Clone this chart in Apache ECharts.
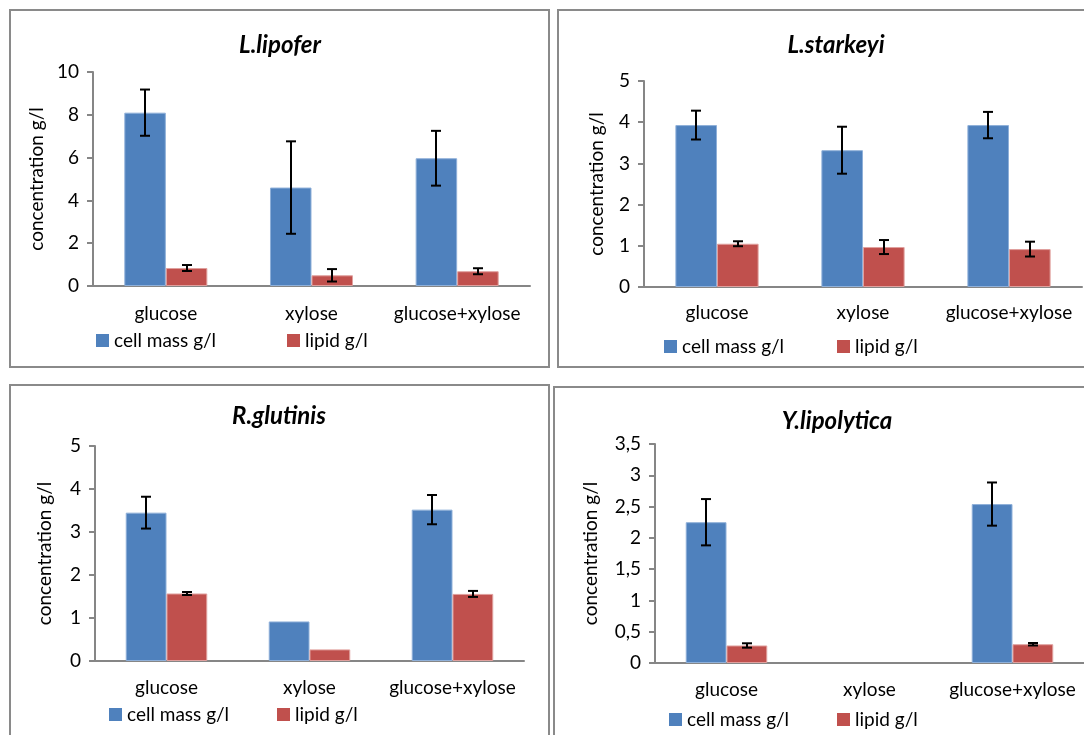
<!DOCTYPE html>
<html>
<head>
<meta charset="utf-8">
<script src="https://cdn.jsdelivr.net/npm/echarts@6/dist/echarts.min.js"></script>
<style>
  html, body { margin: 0; padding: 0; width: 1084px; height: 735px; overflow: hidden; background: #fff; }
  .panel { position: absolute; box-sizing: border-box; border: 2px solid #8a8a8a; background: #fff; }
</style>
</head>
<body>
<div id="p1" class="panel" style="left:9px; top:9px; width:541px; height:359px;"></div>
<div id="p2" class="panel" style="left:557px; top:9px; width:560px; height:359px;"></div>
<div id="p3" class="panel" style="left:9px; top:384px; width:541px; height:400px;"></div>
<div id="p4" class="panel" style="left:553px; top:386px; width:560px; height:400px;"></div>
<script>
const categories = ['glucose', 'xylose', 'glucose+xylose'];
const seriesNames = ['cell mass g/l', 'lipid g/l'];

const lipoferCell = [8.1, 4.6, 5.97];
const lipoferCellErr = [1.08, 2.16, 1.28];
const lipoferLipid = [0.84, 0.5, 0.69];
const lipoferLipidErr = [0.14, 0.29, 0.14];

const starkeyiCell = [3.93, 3.32, 3.93];
const starkeyiCellErr = [0.35, 0.57, 0.32];
const starkeyiLipid = [1.05, 0.97, 0.92];
const starkeyiLipidErr = [0.06, 0.17, 0.18];

const glutinisCell = [3.45, 0.92, 3.52];
const glutinisCellErr = [0.37, 0, 0.34];
const glutinisLipid = [1.57, 0.27, 1.56];
const glutinisLipidErr = [0.035, 0, 0.07];

const lipolyticaCell = [2.25, 0, 2.54];
const lipolyticaCellErr = [0.37, 0, 0.345];
const lipolyticaLipid = [0.28, 0, 0.30];
const lipolyticaLipidErr = [0.035, 0, 0.02];

const FONT = 'Lato';
const BLUE = '#4F81BD';
const RED = '#C0504D';
const AXIS = '#868686';
const GAP = 0.43;

// no outline on empty bars
function barData(values) {
    return values.map(v => v ? v : { value: v, itemStyle: { borderWidth: 0 } });
}

function errorSeries(values, errs, side) {
    return {
        type: 'custom',
        z: 10,
        data: values.map((v, i) => [i, v, errs[i]]),
        renderItem: (params, api) => {
            const e = api.value(2);
            if (!e) return;
            const i = api.value(0);
            const v = api.value(1);
            const w = api.size([1, 0])[0];
            const bw = w * (1 - GAP) / 2;
            const x = Math.round(api.coord([i, v])[0] + side * bw / 2);
            const top = api.coord([i, v + e])[1];
            const bot = api.coord([i, v - e])[1];
            const st = { stroke: '#000', lineWidth: 2 };
            return {
                type: 'group',
                children: [
                    { type: 'line', shape: { x1: x, y1: top, x2: x, y2: bot }, style: st },
                    { type: 'line', shape: { x1: x - 5, y1: top, x2: x + 5, y2: top }, style: st },
                    { type: 'line', shape: { x1: x - 5, y1: bot, x2: x + 5, y2: bot }, style: st }
                ]
            };
        }
    };
}

function renderPanel(id, cfg) {
    const chart = echarts.init(document.getElementById(id));
    const text = { fontFamily: FONT, fontSize: 19, color: '#000' };
    const legendBase = {
        top: cfg.legY, padding: 0,
        itemWidth: 13, itemHeight: 13, itemGap: 0, icon: 'rect',
        itemStyle: { borderWidth: 0 },
        textStyle: text
    };
    const option = {
        animation: false,
        title: {
            text: cfg.title,
            left: cfg.titleX,
            top: cfg.titleY,
            textAlign: 'center',
            padding: 0,
            textStyle: { fontFamily: FONT, fontSize: 24, fontWeight: 'bold', fontStyle: 'italic', color: '#000' }
        },
        legend: [
            { ...legendBase, data: [seriesNames[0]], left: cfg.leg1 },
            { ...legendBase, data: [seriesNames[1]], left: cfg.leg2 }
        ],
        grid: { left: cfg.grid[0], top: cfg.grid[1], width: cfg.grid[2], height: cfg.grid[3] },
        xAxis: {
            type: 'category',
            data: categories,
            axisLine: { lineStyle: { color: AXIS, width: 2 } },
            axisTick: { show: false },
            axisLabel: { ...text, margin: cfg.catMargin, interval: 0 }
        },
        yAxis: {
            type: 'value',
            min: 0,
            max: cfg.max,
            interval: cfg.interval,
            name: 'concentration g/l',
            nameLocation: 'middle',
            nameGap: cfg.nameGap,
            nameTextStyle: text,
            axisLine: { show: true, lineStyle: { color: AXIS, width: 2 } },
            axisTick: { show: true, length: 6, lineStyle: { color: AXIS, width: 2 } },
            axisLabel: { ...text, margin: 14, formatter: v => String(v).replace('.', ',') },
            splitLine: { show: false }
        },
        series: [
            {
                name: seriesNames[0], type: 'bar', data: barData(cfg.cell),
                barGap: 0, barCategoryGap: (GAP * 100) + '%',
                itemStyle: { color: BLUE, borderColor: '#8fb0d9', borderWidth: 1 }
            },
            {
                name: seriesNames[1], type: 'bar', data: barData(cfg.lipid),
                itemStyle: { color: RED, borderColor: '#e0a09e', borderWidth: 1 }
            },
            errorSeries(cfg.cell, cfg.cellErr, -1),
            errorSeries(cfg.lipid, cfg.lipidErr, 1)
        ]
    };
    chart.setOption(option);
}

renderPanel('p1', {
    title: 'L.lipofer', titleX: 269, titleY: 22,
    grid: [82, 61, 437, 214], max: 10, interval: 2, nameGap: 43, catMargin: 18,
    legY: 320, leg1: 85, leg2: 276,
    cell: lipoferCell, cellErr: lipoferCellErr, lipid: lipoferLipid, lipidErr: lipoferLipidErr
});
renderPanel('p2', {
    title: 'L.starkeyi', titleX: 277, titleY: 22,
    grid: [85, 70, 438, 206], max: 5, interval: 1, nameGap: 38, catMargin: 16,
    legY: 326, leg1: 105, leg2: 278,
    cell: starkeyiCell, cellErr: starkeyiCellErr, lipid: starkeyiLipid, lipidErr: starkeyiLipidErr
});
renderPanel('p3', {
    title: 'R.glutinis', titleX: 268, titleY: 18,
    grid: [84, 60, 429, 215], max: 5, interval: 1, nameGap: 41, catMargin: 17,
    legY: 319, leg1: 98, leg2: 266,
    cell: glutinisCell, cellErr: glutinisCellErr, lipid: glutinisLipid, lipidErr: glutinisLipidErr
});
renderPanel('p4', {
    title: 'Y.lipolytica', titleX: 282, titleY: 21,
    grid: [100, 56, 429, 219], max: 3.5, interval: 0.5, nameGap: 55, catMargin: 17,
    legY: 322, leg1: 114, leg2: 282,
    cell: lipolyticaCell, cellErr: lipolyticaCellErr, lipid: lipolyticaLipid, lipidErr: lipolyticaLipidErr
});
</script>
</body>
</html>
